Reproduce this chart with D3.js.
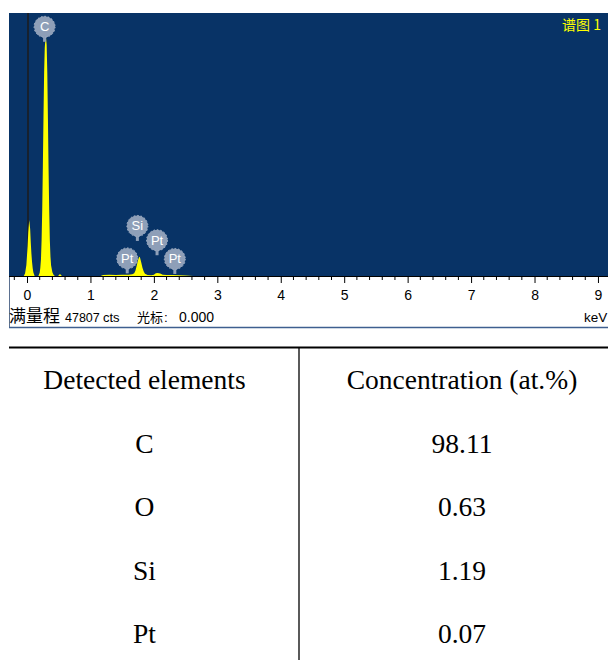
<!DOCTYPE html>
<html>
<head>
<meta charset="utf-8">
<script src="https://cdn.jsdelivr.net/npm/d3@7"></script>
<style>
  body { margin: 0; background: #fff; }
  svg { display: block; }
</style>
</head>
<body>
<svg width="608" height="660"></svg>
<script>
// EDS spectrum (keV, counts)
var spectrumKeV = [-0.05, -0.03, -0.01, 0.01, 0.02, 0.035, 0.05, 0.06, 0.07, 0.08, 0.09, 0.10, 0.12,
    0.18, 0.20, 0.21, 0.22, 0.23, 0.24, 0.25, 0.26, 0.27, 0.28, 0.29, 0.30, 0.31, 0.32, 0.33, 0.34,
    0.35, 0.36, 0.37, 0.38, 0.40, 0.42, 0.44,
    0.49, 0.52, 0.55,
    1.16, 1.20, 1.30, 1.40, 1.50, 1.60, 1.66, 1.69, 1.71, 1.73, 1.75, 1.77, 1.78, 1.80, 1.82, 1.84,
    1.86, 1.90, 1.96, 2.00, 2.03, 2.06, 2.10, 2.14, 2.20, 2.30, 2.40, 2.50, 2.62];
var spectrumCounts = [0, 500, 2000, 5500, 8000, 10200, 8500, 6000, 4000, 2500, 1400, 700, 0,
    0, 600, 1500, 3000, 6500, 12000, 20000, 29000, 37000, 41500, 43000, 43300, 42000, 37000, 28500, 19500,
    12000, 6500, 3500, 1900, 700, 200, 0,
    0, 350, 0,
    0, 200, 250, 200, 250, 250, 300, 500, 1000, 1900, 2900, 3500, 3400, 2500, 1500, 800,
    400, 200, 150, 250, 500, 550, 450, 250, 200, 200, 150, 100, 0];

var fullScale = 47807;
var cursorKeV = 0.000;

// peak markers: element, line energy (keV), height of the marker (counts)
var markerElements = ['C', 'Si', 'Pt', 'Pt', 'Pt'];
var markerKeV = [0.277, 1.74, 1.58, 2.05, 2.33];
var markerCounts = [45300, 9100, 3200, 6500, 3100];

var axisTicks = [0, 1, 2, 3, 4, 5, 6, 7, 8, 9];
var minorTicks = d3.range(-1, 46).map(function (i) { return i / 5; });

// table
var tableHeader = ['Detected elements', 'Concentration (at.%)'];
var tableElements = ['C', 'O', 'Si', 'Pt'];
var tableConcentration = ['98.11', '0.63', '1.19', '0.07'];

var svg = d3.select('svg');

var plotLeft = 9, plotRight = 608, plotTop = 13, plotBottom = 276;

var x = d3.scaleLinear()
    .domain([(plotLeft - 27) / 63.44, (plotRight - 27) / 63.44])
    .range([plotLeft, plotRight]);
var y = d3.scaleLinear()
    .domain([0, fullScale])
    .range([plotBottom, plotTop]);

// axis strip border and blue plot
svg.append('line')
    .attr('x1', plotLeft + 0.5).attr('x2', plotLeft + 0.5)
    .attr('y1', plotBottom).attr('y2', 327)
    .attr('stroke', '#5b7090').attr('stroke-width', 1);
svg.append('line')
    .attr('x1', plotLeft).attr('x2', plotRight)
    .attr('y1', 327.5).attr('y2', 327.5)
    .attr('stroke', '#3f5f8f').attr('stroke-width', 1.5);

svg.append('rect')
    .attr('x', plotLeft).attr('y', plotTop)
    .attr('width', plotRight - plotLeft).attr('height', plotBottom - plotTop)
    .attr('fill', '#083366');

// cursor
svg.append('line')
    .attr('x1', x(cursorKeV) + 1).attr('x2', x(cursorKeV) + 1)
    .attr('y1', plotTop).attr('y2', plotBottom)
    .attr('stroke', '#1c1c1c').attr('stroke-width', 1.5);

// spectrum
var spectrum = spectrumKeV.map(function (d, i) {
    return { e: d, c: spectrumCounts[i] };
});
var area = d3.area()
    .x(function (d) { return x(d.e); })
    .y0(y(0))
    .y1(function (d) { return y(d.c); });
svg.append('path')
    .datum(spectrum)
    .attr('d', area)
    .attr('fill', '#ffff00');

// markers
var markers = markerElements.map(function (d, i) {
    return { el: d, e: markerKeV[i], c: markerCounts[i] };
});
var mg = svg.selectAll('g.marker')
    .data(markers)
    .join('g')
    .attr('class', 'marker')
    .attr('transform', function (d) {
        return 'translate(' + x(d.e) + ',' + y(d.c) + ')';
    });
mg.append('rect')
    .attr('x', -1.5).attr('y', 9)
    .attr('width', 3).attr('height', 6)
    .attr('fill', '#8e9fb8');
mg.append('circle')
    .attr('r', 10.5)
    .attr('fill', '#8e9fb8')
    .attr('stroke', '#a8b5c8')
    .attr('stroke-width', 1)
    .attr('stroke-dasharray', '1.5,2');
mg.append('text')
    .attr('text-anchor', 'middle')
    .attr('dy', 4.5)
    .attr('fill', '#fff')
    .style('font-family', 'Liberation Sans, Arial, sans-serif')
    .style('font-size', '13px')
    .text(function (d) { return d.el; });

// spectrum name
svg.append('text')
    .attr('x', 562).attr('y', 30)
    .attr('fill', '#ffff00')
    .style('font-family', 'Noto Sans CJK SC, sans-serif')
    .style('font-size', '14px')
    .text('谱图 1');

// axis
var axis = d3.axisBottom(x)
    .tickValues(axisTicks)
    .tickSize(7)
    .tickPadding(7)
    .tickFormat(d3.format('d'));
var ga = svg.append('g')
    .attr('transform', 'translate(0,' + plotBottom + ')')
    .call(axis);
ga.select('.domain')
    .attr('d', 'M' + plotLeft + ',0.5H' + plotRight)
    .attr('stroke', '#000');
ga.selectAll('.tick line').attr('stroke', '#000');
ga.selectAll('.tick text')
    .attr('fill', '#000')
    .style('font-family', 'Liberation Sans, Arial, sans-serif')
    .style('font-size', '14px');
ga.selectAll('line.minor')
    .data(minorTicks.filter(function (d) { return Math.abs(d - Math.round(d)) > 1e-6; }))
    .join('line')
    .attr('class', 'minor')
    .attr('x1', function (d) { return x(d); })
    .attr('x2', function (d) { return x(d); })
    .attr('y1', 0).attr('y2', 4)
    .attr('stroke', '#000');

// status line
var statusParts = [
    { t: '满量程', x: 9, cjk: true, size: 17 },
    { t: String(fullScale), x: 65, size: 12.5 },
    { t: 'cts', x: 103, size: 13 },
    { t: '光标', x: 137, cjk: true, size: 13 },
    { t: ':', x: 164, size: 13.5 },
    { t: cursorKeV.toFixed(3), x: 179, size: 14 }
];
svg.selectAll('text.status')
    .data(statusParts)
    .join('text')
    .attr('class', 'status')
    .attr('x', function (d) { return d.x; })
    .attr('y', 322)
    .attr('fill', '#000')
    .style('font-family', function (d) {
        return d.cjk ? 'Noto Sans CJK SC, sans-serif' : 'Liberation Sans, Arial, sans-serif';
    })
    .style('font-size', function (d) { return d.size + 'px'; })
    .text(function (d) { return d.t; });
svg.append('text')
    .attr('x', 584).attr('y', 322)
    .attr('fill', '#000')
    .style('font-family', 'Liberation Sans, Arial, sans-serif')
    .style('font-size', '13.5px')
    .text('keV');

// table
var tableTop = 347.5, divider = 299;
var colX = [144.5, 462];
var rowY = d3.scaleLinear().domain([0, 1]).range([389, 452.5]);

svg.append('line')
    .attr('x1', plotLeft).attr('x2', 608)
    .attr('y1', tableTop).attr('y2', tableTop)
    .attr('stroke', '#000').attr('stroke-width', 2);
svg.append('line')
    .attr('x1', divider).attr('x2', divider)
    .attr('y1', tableTop).attr('y2', 660)
    .attr('stroke', '#000').attr('stroke-width', 1.3);

var rows = [tableHeader].concat(tableElements.map(function (d, i) {
    return [d, tableConcentration[i]];
}));
var rg = svg.selectAll('g.row')
    .data(rows)
    .join('g')
    .attr('class', 'row')
    .attr('transform', function (d, i) { return 'translate(0,' + rowY(i) + ')'; });
rg.selectAll('text')
    .data(function (d) { return d; })
    .join('text')
    .attr('x', function (d, i) { return colX[i]; })
    .attr('text-anchor', 'middle')
    .attr('fill', '#000')
    .style('font-family', 'Liberation Serif, Times New Roman, serif')
    .style('font-size', '27.5px')
    .text(function (d) { return d; });
</script>
</body>
</html>
